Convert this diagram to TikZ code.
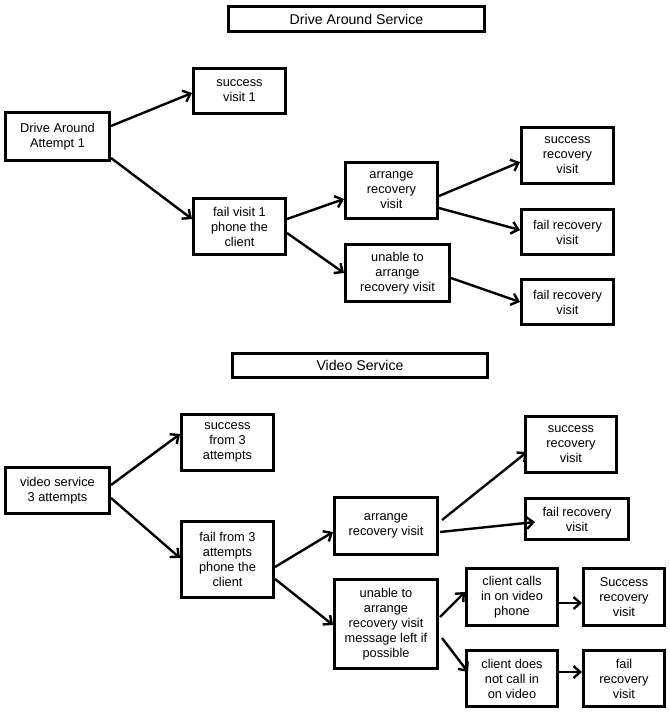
\documentclass[tikz,border=0pt]{standalone}
\usepackage{fontspec}
\setmainfont{Liberation Sans}
\usetikzlibrary{arrows.meta,calc}
\begin{document}
\begin{tikzpicture}[x=0.75pt,y=-0.75pt,
  box/.style={draw=black,line width=1.9pt,rectangle,align=center,inner sep=0pt,
    font=\fontsize{9.6}{11.3}\selectfont},
  titlebox/.style={box,font=\fontsize{10.6}{12.5}\selectfont},
  sz/.style 2 args={minimum width=#1*0.75pt-1.9pt,minimum height=#2*0.75pt-1.9pt},
  arr/.style={line width=1.8pt,-{Straight Barb[length=5pt,width=9pt]}}]
\useasboundingbox (0,0) rectangle (670,714);
% Drive Around Service
\node[titlebox,sz={259}{28}] (t1) at (356.5,19) {Drive Around Service};
\node[box,sz={107}{51}] (d0) at (57.5,136.5) {Drive Around\\Attempt 1};
\node[box,sz={95}{48}] (d1) at (239.5,91) {success\\visit 1};
\node[box,sz={95}{59}] (d2) at (239.5,226.5) {fail visit 1\\phone the\\client};
\node[box,sz={95}{59}] (d3) at (391.5,190.5) {arrange\\recovery\\visit};
\node[box,sz={107}{60}] (d4) at (397.5,273) {unable to\\arrange\\recovery visit};
\node[box,sz={95}{59}] (d5) at (567.5,155.5) {success\\recovery\\visit};
\node[box,sz={95}{48}] (d6) at (567.5,232) {fail recovery\\visit};
\node[box,sz={95}{48}] (d7) at (567.5,302) {fail recovery\\visit};
\draw[arr] ($(d0.east)+(0,-10.5)$) -- ($(d1.west)+(0,2)$);
\draw[arr] ($(d0.east)+(0,21.5)$) -- ($(d2.west)+(0,-7.5)$);
\draw[arr] ($(d2.east)+(0,-7.5)$) -- ($(d3.west)+(0,8.5)$);
\draw[arr] ($(d2.east)+(0,6.5)$) -- (d4.west);
\draw[arr] ($(d3.east)+(0,5.5)$) -- ($(d5.west)+(0,6.5)$);
\draw[arr] ($(d3.east)+(0,17.5)$) -- ($(d6.west)+(0,-2)$);
\draw[arr] ($(d4.east)+(0,5)$) -- (d7.west);
% Video Service
\node[titlebox,sz={258}{27}] (t2) at (360,365.5) {Video Service};
\node[box,sz={107}{49}] (v0) at (57.5,490.5) {video service\\3 attempts};
\node[box,sz={95}{59}] (v1) at (227.5,442.5) {success\\from 3\\attempts};
\node[box,sz={95}{79}] (v2) at (227.5,559.5) {fail from 3\\attempts\\phone the\\client};
\node[box,sz={106}{60}] (v3) at (386,526) {arrange\\recovery visit};
\node[box,sz={106}{92}] (v4) at (386,624) {unable to\\arrange\\recovery visit\\message left if\\possible};
\node[box,sz={94}{59}] (v5) at (571,444.5) {success\\recovery\\visit};
\node[box,sz={106}{44}] (v6) at (577,519) {fail recovery\\visit};
\node[box,sz={94}{60}] (v7) at (512,597) {client calls\\in on video\\phone};
\node[box,sz={84}{60}] (v8) at (624,597) {Success\\recovery\\visit};
\node[box,sz={94}{59}] (v9) at (512,678.5) {client does\\not call in\\on video};
\node[box,sz={84}{59}] (v10) at (624,678.5) {fail\\recovery\\visit};
\draw[arr] ($(v0.east)+(0,-5.5)$) -- ($(v1.west)+(0,-8.5)$);
\draw[arr] ($(v0.east)+(0,7.5)$) -- ($(v2.west)+(0,-1.5)$);
\draw[arr] ($(v2.east)+(0,7.5)$) -- ($(v3.west)+(0,6)$);
\draw[arr] ($(v2.east)+(0,19.5)$) -- ($(v4.west)+(0,1)$);
\draw[arr] ($(v3.east)+(3,-6)$) -- ($(v5.west)+(3,7.5)$);
\draw[arr] ($(v3.east)+(1,6)$) -- ($(v6.west)+(11,3)$);
\draw[arr] ($(v4.east)+(1,-7)$) -- ($(v7.west)+(0,-5)$);
\draw[arr] ($(v4.east)+(3,14)$) -- ($(v9.west)+(3,-6.5)$);
\draw[arr] ($(v7.east)+(0,6)$) -- ($(v8.west)+(0,6)$);
\draw[arr] ($(v9.east)+(0,-6.5)$) -- ($(v10.west)+(0,-6.5)$);
\end{tikzpicture}
\end{document}
